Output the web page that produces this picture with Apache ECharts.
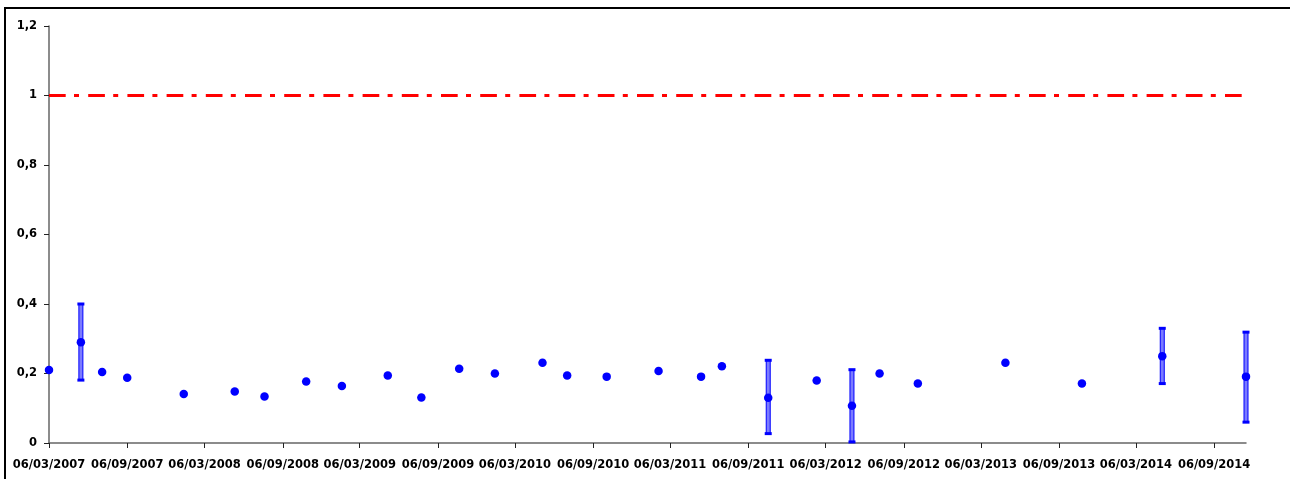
<!DOCTYPE html>
<html>
<head>
<meta charset="utf-8">
<title>Ratio</title>
<script src="https://cdn.jsdelivr.net/npm/echarts@6/dist/echarts.min.js"></script>
<style>
  html, body { margin: 0; padding: 0; background: #fff; }
  #chart { width: 1290px; height: 479px; }
</style>
</head>
<body>
<div id="chart"></div>
<script>
// Sampling dates and measured ratios
const sampleDates = [
  '2007-03-06', '2007-05-20', '2007-07-09', '2007-09-06', '2008-01-17', '2008-05-16',
  '2008-07-25', '2008-10-31', '2009-01-23', '2009-05-11', '2009-07-29', '2009-10-26',
  '2010-01-18', '2010-05-10', '2010-07-07', '2010-10-08', '2011-02-07', '2011-05-18',
  '2011-07-06', '2011-10-23', '2012-02-14', '2012-05-07', '2012-07-11', '2012-10-09',
  '2013-05-03', '2013-10-30', '2014-05-07', '2014-11-20'
];
const ratios = [
  0.210, 0.290, 0.204, 0.188, 0.141, 0.148,
  0.134, 0.177, 0.164, 0.194, 0.131, 0.214,
  0.200, 0.231, 0.194, 0.191, 0.207, 0.191,
  0.221, 0.130, 0.180, 0.107, 0.200, 0.171,
  0.231, 0.171, 0.250, 0.191
];

// Uncertainty ranges where available
const errorDates = ['2007-05-20', '2011-10-23', '2012-05-07', '2014-05-07', '2014-11-20'];
const errorLow   = [0.181, 0.027, 0.003, 0.171, 0.060];
const errorHigh  = [0.400, 0.238, 0.211, 0.330, 0.319];

// Limit value
const limitValue = 1;

// Axis ticks
const tickDates = [
  '2007-03-06', '2007-09-06', '2008-03-06', '2008-09-06', '2009-03-06', '2009-09-06',
  '2010-03-06', '2010-09-06', '2011-03-06', '2011-09-06', '2012-03-06', '2012-09-06',
  '2013-03-06', '2013-09-06', '2014-03-06', '2014-09-06'
];
const xStart = '2007-03-06';
const xEnd = '2014-11-20';

function ts(s) {
  const p = s.split('-').map(Number);
  return Date.UTC(p[0], p[1] - 1, p[2]);
}
function pad(n) { return (n < 10 ? '0' : '') + n; }
function fmtDate(v) {
  const d = new Date(v);
  return pad(d.getUTCDate()) + '/' + pad(d.getUTCMonth() + 1) + '/' + d.getUTCFullYear();
}

const pointData = sampleDates.map((d, i) => [ts(d), ratios[i]]);
const errorData = errorDates.map((d, i) => [ts(d), errorLow[i], errorHigh[i]]);
const tickValues = tickDates.map(ts);

const labelFont = {
  fontFamily: 'DejaVu Sans',
  fontWeight: 'bold',
  fontSize: 11.5,
  color: '#000'
};

const chart = echarts.init(document.getElementById('chart'), null, { renderer: 'canvas' });

chart.setOption({
  animation: false,
  backgroundColor: '#fff',
  grid: { left: 49, top: 26, right: 44, bottom: 36, containLabel: false },
  graphic: [{
    type: 'rect',
    shape: { x: 5, y: 8, width: 1400, height: 600 },
    style: { fill: 'none', stroke: '#000', lineWidth: 2 },
    silent: true,
    z: -1
  }],
  xAxis: {
    type: 'value',
    min: ts(xStart),
    max: ts(xEnd),
    splitLine: { show: false },
    axisLine: { show: true, lineStyle: { color: '#666', width: 1.5 } },
    axisTick: {
      show: true, inside: false, length: 5,
      customValues: tickValues,
      lineStyle: { color: '#222', width: 1 }
    },
    axisLabel: Object.assign({
      customValues: tickValues,
      margin: 16,
      formatter: fmtDate,
      hideOverlap: false,
      showMinLabel: true,
      showMaxLabel: true
    }, labelFont)
  },
  yAxis: {
    type: 'value',
    min: 0,
    max: 1.2,
    interval: 0.2,
    splitLine: { show: false },
    axisLine: { show: true, lineStyle: { color: '#666', width: 1.5 } },
    axisTick: { show: true, inside: false, length: 5, lineStyle: { color: '#222', width: 1 } },
    axisLabel: Object.assign({
      margin: 12,
      formatter: function (v) {
        return String(Math.round(v * 10) / 10).replace('.', ',');
      }
    }, labelFont)
  },
  series: [
    {
      name: 'limit',
      type: 'line',
      data: [[ts(xStart), limitValue], [ts(xEnd), limitValue]],
      symbol: 'none',
      silent: true,
      lineStyle: { color: '#ff0000', width: 3, type: [16.7, 8.3, 5, 9.2], cap: 'butt' },
      z: 3
    },
    {
      name: 'range',
      type: 'custom',
      clip: false,
      data: errorData,
      encode: { x: 0, y: [1, 2] },
      renderItem: function (params, api) {
        const x = api.value(0);
        const lo = api.coord([x, api.value(1)]);
        const hi = api.coord([x, api.value(2)]);
        const cx = lo[0];
        return {
          type: 'group',
          children: [
            {
              type: 'rect',
              shape: { x: cx - 2, y: hi[1], width: 4, height: lo[1] - hi[1] },
              style: { fill: '#7b7bff', stroke: '#0000ff', lineWidth: 1 }
            },
            {
              type: 'rect',
              shape: { x: cx - 3.5, y: hi[1] - 1.5, width: 7, height: 3 },
              style: { fill: '#0000ff' }
            },
            {
              type: 'rect',
              shape: { x: cx - 3.5, y: lo[1] - 1.5, width: 7, height: 3 },
              style: { fill: '#0000ff' }
            }
          ]
        };
      },
      z: 4
    },
    {
      name: 'ratio',
      type: 'scatter',
      clip: false,
      data: pointData,
      symbol: 'circle',
      symbolSize: 8.5,
      itemStyle: { color: '#0000ff', opacity: 1 },
      z: 5
    }
  ]
});
</script>
</body>
</html>
